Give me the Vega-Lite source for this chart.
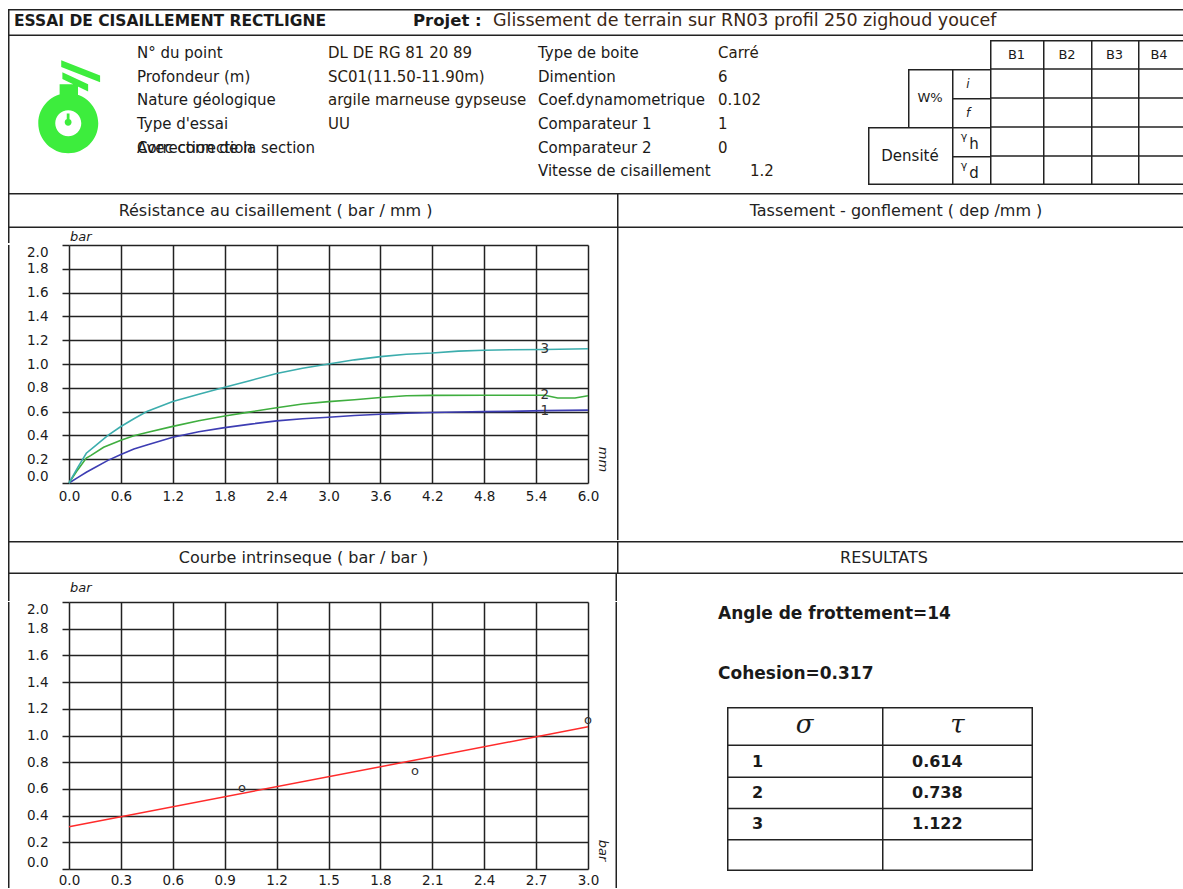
{
"$schema": "https://vega.github.io/schema/vega-lite/v6.json",
"padding": {"left": 8, "top": 9, "right": 0, "bottom": 0},
"background": "white",
"bounds": "full",
"spacing": 0,
"data": {"values": [{}]},
"datasets": {
"curves": [
{"sample":"1","d":0,"tau":0},{"sample":"1","d":0.1,"tau":0.045},{"sample":"1","d":0.2,"tau":0.09},{"sample":"1","d":0.3,"tau":0.13},{"sample":"1","d":0.45,"tau":0.19},{"sample":"1","d":0.6,"tau":0.24},{"sample":"1","d":0.75,"tau":0.285},{"sample":"1","d":0.9,"tau":0.32},{"sample":"1","d":1.2,"tau":0.385},{"sample":"1","d":1.5,"tau":0.43},{"sample":"1","d":1.8,"tau":0.465},{"sample":"1","d":2.1,"tau":0.495},{"sample":"1","d":2.4,"tau":0.522},{"sample":"1","d":2.7,"tau":0.54},{"sample":"1","d":3.0,"tau":0.552},{"sample":"1","d":3.3,"tau":0.567},{"sample":"1","d":3.6,"tau":0.578},{"sample":"1","d":3.9,"tau":0.586},{"sample":"1","d":4.2,"tau":0.592},{"sample":"1","d":4.5,"tau":0.597},{"sample":"1","d":4.8,"tau":0.6},{"sample":"1","d":5.1,"tau":0.602},{"sample":"1","d":5.5,"tau":0.608},{"sample":"1","d":6.0,"tau":0.612},
{"sample":"2","d":0,"tau":0},{"sample":"2","d":0.1,"tau":0.11},{"sample":"2","d":0.2,"tau":0.21},{"sample":"2","d":0.25,"tau":0.23},{"sample":"2","d":0.4,"tau":0.3},{"sample":"2","d":0.6,"tau":0.36},{"sample":"2","d":0.75,"tau":0.397},{"sample":"2","d":0.9,"tau":0.425},{"sample":"2","d":1.2,"tau":0.476},{"sample":"2","d":1.5,"tau":0.523},{"sample":"2","d":1.8,"tau":0.563},{"sample":"2","d":2.1,"tau":0.598},{"sample":"2","d":2.4,"tau":0.633},{"sample":"2","d":2.7,"tau":0.664},{"sample":"2","d":3.0,"tau":0.684},{"sample":"2","d":3.3,"tau":0.7},{"sample":"2","d":3.6,"tau":0.719},{"sample":"2","d":3.9,"tau":0.733},{"sample":"2","d":4.2,"tau":0.736},{"sample":"2","d":4.8,"tau":0.737},{"sample":"2","d":5.5,"tau":0.738},{"sample":"2","d":5.65,"tau":0.714},{"sample":"2","d":5.85,"tau":0.714},{"sample":"2","d":6.0,"tau":0.733},
{"sample":"3","d":0,"tau":0},{"sample":"3","d":0.1,"tau":0.13},{"sample":"3","d":0.2,"tau":0.25},{"sample":"3","d":0.3,"tau":0.31},{"sample":"3","d":0.45,"tau":0.4},{"sample":"3","d":0.6,"tau":0.475},{"sample":"3","d":0.75,"tau":0.54},{"sample":"3","d":0.9,"tau":0.6},{"sample":"3","d":1.2,"tau":0.685},{"sample":"3","d":1.5,"tau":0.745},{"sample":"3","d":1.8,"tau":0.805},{"sample":"3","d":2.1,"tau":0.862},{"sample":"3","d":2.4,"tau":0.92},{"sample":"3","d":2.7,"tau":0.965},{"sample":"3","d":3.0,"tau":1.0},{"sample":"3","d":3.3,"tau":1.035},{"sample":"3","d":3.6,"tau":1.062},{"sample":"3","d":3.9,"tau":1.082},{"sample":"3","d":4.2,"tau":1.092},{"sample":"3","d":4.5,"tau":1.108},{"sample":"3","d":4.8,"tau":1.116},{"sample":"3","d":5.1,"tau":1.12},{"sample":"3","d":5.5,"tau":1.122},{"sample":"3","d":6.0,"tau":1.128}
],
"fit": [{"sigma": 0, "tau": 0.317}, {"sigma": 3, "tau": 1.065}],
"tests": [{"sample": "1", "sigma": 1, "tau": 0.614}, {"sample": "2", "sigma": 2, "tau": 0.738}, {"sample": "3", "sigma": 3, "tau": 1.122}],
"info": [
{"group": "A", "line": 1, "label": "N° du point", "value": "DL DE RG 81 20 89"},
{"group": "A", "line": 2, "label": "Profondeur (m)", "value": "SC01(11.50-11.90m)"},
{"group": "A", "line": 3, "label": "Nature géologique", "value": "argile marneuse gypseuse"},
{"group": "A", "line": 4, "label": "Type d'essai", "value": "UU"},
{"group": "A", "line": 5, "label": "Correction de la section", "value": ""},
{"group": "A", "line": 5, "label": "Avec correction", "value": ""},
{"group": "B", "line": 1, "label": "Type de boite", "value": "Carré"},
{"group": "B", "line": 2, "label": "Dimention", "value": "6"},
{"group": "B", "line": 3, "label": "Coef.dynamometrique", "value": "0.102"},
{"group": "B", "line": 4, "label": "Comparateur 1", "value": "1"},
{"group": "B", "line": 5, "label": "Comparateur 2", "value": "0"},
{"group": "B", "line": 6, "label": "Vitesse de cisaillement", "value": "1.2"}
],
"results": [{"line": 1, "text": "Angle de frottement=14"}, {"line": 2, "text": "Cohesion=0.317"}],
"wcells": [
{"col": "B1", "row": "h", "text": "B1"}, {"col": "B1", "row": "i", "text": ""}, {"col": "B1", "row": "f", "text": ""}, {"col": "B1", "row": "gh", "text": ""}, {"col": "B1", "row": "gd", "text": ""},
{"col": "B2", "row": "h", "text": "B2"}, {"col": "B2", "row": "i", "text": ""}, {"col": "B2", "row": "f", "text": ""}, {"col": "B2", "row": "gh", "text": ""}, {"col": "B2", "row": "gd", "text": ""},
{"col": "B3", "row": "h", "text": "B3"}, {"col": "B3", "row": "i", "text": ""}, {"col": "B3", "row": "f", "text": ""}, {"col": "B3", "row": "gh", "text": ""}, {"col": "B3", "row": "gd", "text": ""},
{"col": "B4", "row": "h", "text": "B4"}, {"col": "B4", "row": "i", "text": ""}, {"col": "B4", "row": "f", "text": ""}, {"col": "B4", "row": "gh", "text": ""}, {"col": "B4", "row": "gd", "text": ""}
]
},
"config": {
"view": {"stroke": null},
"text": {"font": "DejaVu Sans", "fontSize": 15, "color": "#1a1a1a"},
"rule": {"color": "#222", "strokeWidth": 3},
"axis": {"labelFont": "DejaVu Sans", "labelFontSize": 13.5, "labelColor": "#1a1a1a", "titleFont": "DejaVu Sans", "titleColor": "#1a1a1a", "gridColor": "#222", "gridOpacity": 1, "gridWidth": 1.5, "domain": false}
},
"vconcat": [
{"hconcat": [
 {"width": 397, "height": 27, "layer": [
  {"mark": {"type": "rule", "clip": true}, "encoding": {"y": {"datum": 1, "type": "quantitative", "scale": {"domain": [0, 1]}, "axis": null}}},
  {"mark": {"type": "rule", "clip": true}, "encoding": {"y": {"datum": 0, "type": "quantitative", "axis": null}}},
  {"mark": {"type": "rule", "clip": true}, "encoding": {"x": {"datum": 0, "type": "quantitative", "scale": {"domain": [0, 1]}, "axis": null}}},
  {"mark": {"type": "text", "text": "ESSAI DE CISAILLEMENT RECTLIGNE", "align": "left", "fontWeight": "bold", "fontSize": 15.5, "dx": 6, "dy": -2}, "encoding": {"x": {"datum": 0, "type": "quantitative", "axis": null}}}
 ]},
 {"width": 80, "height": 27, "layer": [
  {"mark": {"type": "rule", "clip": true}, "encoding": {"y": {"datum": 1, "type": "quantitative", "scale": {"domain": [0, 1]}, "axis": null}}},
  {"mark": {"type": "rule", "clip": true}, "encoding": {"y": {"datum": 0, "type": "quantitative", "axis": null}}},
  {"mark": {"type": "text", "text": "Projet :", "align": "left", "fontWeight": "bold", "fontSize": 16.5, "dx": 8, "dy": -2}, "encoding": {"x": {"datum": 0, "type": "quantitative", "scale": {"domain": [0, 1]}, "axis": null}}}
 ]},
 {"width": 712, "height": 27, "layer": [
  {"mark": {"type": "rule", "clip": true}, "encoding": {"y": {"datum": 1, "type": "quantitative", "scale": {"domain": [0, 1]}, "axis": null}}},
  {"mark": {"type": "rule", "clip": true}, "encoding": {"y": {"datum": 0, "type": "quantitative", "axis": null}}},
  {"mark": {"type": "text", "text": "Glissement de terrain sur RN03 profil 250 zighoud youcef", "align": "left", "fontSize": 17.5, "color": "#3a2614", "dx": 8, "dy": -2}, "encoding": {"x": {"datum": 0, "type": "quantitative", "scale": {"domain": [0, 1]}, "axis": null}}}
 ]}
], "spacing": 0, "bounds": "flush"},
{"hconcat": [
 {"width": 129, "height": 157, "layer": [
  {"mark": {"type": "rule", "clip": true}, "encoding": {"x": {"datum": 0, "type": "quantitative", "scale": {"domain": [0, 1]}, "axis": null}}},
  {"mark": {"type": "point", "filled": true, "fill": "#3ded3d", "opacity": 1, "strokeWidth": 0, "size": 8464, "shape": "M -0.744 0.19 A 0.652 0.652 0 1 1 0.56 0.19 A 0.652 0.652 0 1 1 -0.744 0.19 Z M -0.375 0.19 A 0.283 0.283 0 1 0 0.191 0.19 A 0.283 0.283 0 1 0 -0.375 0.19 Z M -0.17 0.17 A 0.075 0.075 0 1 1 -0.02 0.17 A 0.075 0.075 0 1 1 -0.17 0.17 Z M -0.125 -0.02 L -0.065 -0.02 L -0.065 0.17 L -0.125 0.17 Z M -0.28 -0.66 L 0.12 -0.66 L 0.12 -0.4 L -0.28 -0.4 Z M -0.245 -1.18 L 0.6 -0.85 L 0.6 -0.7 L -0.245 -1.03 Z M -0.22 -0.92 L 0.34 -0.66 L 0.34 -0.5 L -0.22 -0.77 Z"}, "encoding": {}}
 ]},
 {"width": 191, "height": 157, "data": {"name": "info"}, "transform": [{"filter": "datum.group == 'A'"}],
  "mark": {"type": "text", "align": "left", "fontSize": 15},
  "encoding": {"x": {"datum": 0, "type": "quantitative", "scale": {"domain": [0, 1]}, "axis": null},
   "y": {"field": "line", "type": "ordinal", "scale": {"type": "point", "domain": [1, 2, 3, 4, 5, 6], "padding": 0.826, "align": 0.442}, "axis": null},
   "text": {"field": "label", "type": "nominal"}}},
 {"width": 210, "height": 157, "data": {"name": "info"}, "transform": [{"filter": "datum.group == 'A'"}],
  "mark": {"type": "text", "align": "left", "fontSize": 15, "color": "#2a1c10"},
  "encoding": {"x": {"datum": 0, "type": "quantitative", "scale": {"domain": [0, 1]}, "axis": null},
   "y": {"field": "line", "type": "ordinal", "scale": {"type": "point", "domain": [1, 2, 3, 4, 5, 6], "padding": 0.826, "align": 0.442}, "axis": null},
   "text": {"field": "value", "type": "nominal"}}},
 {"width": 180, "height": 157, "data": {"name": "info"}, "transform": [{"filter": "datum.group == 'B'"}],
  "mark": {"type": "text", "align": "left", "fontSize": 15},
  "encoding": {"x": {"datum": 0, "type": "quantitative", "scale": {"domain": [0, 1]}, "axis": null},
   "y": {"field": "line", "type": "ordinal", "scale": {"type": "point", "domain": [1, 2, 3, 4, 5, 6], "padding": 0.826, "align": 0.442}, "axis": null},
   "text": {"field": "label", "type": "nominal"}}},
 {"width": 150, "height": 157, "data": {"name": "info"}, "transform": [{"filter": "datum.group == 'B'"}],
  "encoding": {"x": {"datum": 0, "type": "quantitative", "scale": {"domain": [0, 1]}, "axis": null},
   "y": {"field": "line", "type": "ordinal", "scale": {"type": "point", "domain": [1, 2, 3, 4, 5, 6], "padding": 0.826, "align": 0.442}, "axis": null},
   "text": {"field": "value", "type": "nominal"}},
  "layer": [
   {"transform": [{"filter": "datum.line < 6"}], "mark": {"type": "text", "align": "left", "fontSize": 15, "color": "#2a1c10"}},
   {"transform": [{"filter": "datum.line == 6"}], "mark": {"type": "text", "align": "left", "fontSize": 15, "color": "#2a1c10", "dx": 32}}
  ]},
 {"vconcat": [
  {"width": 318, "height": 4, "mark": {"type": "point", "opacity": 0, "size": 0}, "encoding": {}},
  {"hconcat": [
   {"vconcat": [
    {"width": 122, "height": 29, "mark": {"type": "point", "opacity": 0, "size": 0}, "encoding": {}},
    {"hconcat": [
     {"width": 40, "height": 58, "mark": {"type": "point", "opacity": 0, "size": 0}, "encoding": {}},
     {"width": 44, "height": 58, "layer": [
      {"mark": {"type": "rule", "clip": true}, "encoding": {"y": {"datum": 1, "type": "quantitative", "scale": {"domain": [0, 1]}, "axis": null}}},
      {"mark": {"type": "rule", "clip": true}, "encoding": {"x": {"datum": 0, "type": "quantitative", "scale": {"domain": [0, 1]}, "axis": null}}},
      {"mark": {"type": "text", "text": "W%", "fontSize": 13}, "encoding": {}}
     ]},
     {"vconcat": [
      {"width": 38, "height": 29, "layer": [
       {"mark": {"type": "rule", "clip": true}, "encoding": {"y": {"datum": 1, "type": "quantitative", "scale": {"domain": [0, 1]}, "axis": null}}},
       {"mark": {"type": "rule", "clip": true}, "encoding": {"x": {"datum": 0, "type": "quantitative", "scale": {"domain": [0, 1]}, "axis": null}}},
       {"mark": {"type": "text", "text": "i", "fontSize": 12, "fontStyle": "italic", "dx": -3}, "encoding": {}}
      ]},
      {"width": 38, "height": 29, "layer": [
       {"mark": {"type": "rule", "clip": true}, "encoding": {"y": {"datum": 1, "type": "quantitative", "scale": {"domain": [0, 1]}, "axis": null}}},
       {"mark": {"type": "rule", "clip": true}, "encoding": {"x": {"datum": 0, "type": "quantitative", "scale": {"domain": [0, 1]}, "axis": null}}},
       {"mark": {"type": "text", "text": "f", "fontSize": 12, "fontStyle": "italic", "dx": -3}, "encoding": {}}
      ]}
     ], "spacing": 0, "bounds": "flush"}
    ], "spacing": 0, "bounds": "full"},
    {"hconcat": [
     {"width": 84, "height": 58, "layer": [
      {"mark": {"type": "rule", "clip": true}, "encoding": {"y": {"datum": 1, "type": "quantitative", "scale": {"domain": [0, 1]}, "axis": null}}},
      {"mark": {"type": "rule", "clip": true}, "encoding": {"y": {"datum": 0, "type": "quantitative", "axis": null}}},
      {"mark": {"type": "rule", "clip": true}, "encoding": {"x": {"datum": 0, "type": "quantitative", "scale": {"domain": [0, 1]}, "axis": null}}},
      {"mark": {"type": "text", "text": "Densité", "fontSize": 15}, "encoding": {}}
     ]},
     {"vconcat": [
      {"width": 38, "height": 29, "layer": [
       {"mark": {"type": "rule", "clip": true}, "encoding": {"y": {"datum": 1, "type": "quantitative", "scale": {"domain": [0, 1]}, "axis": null}}},
       {"mark": {"type": "rule", "clip": true}, "encoding": {"x": {"datum": 0, "type": "quantitative", "scale": {"domain": [0, 1]}, "axis": null}}},
       {"mark": {"type": "text", "text": "γ", "fontSize": 11, "dx": -7, "dy": -5}, "encoding": {}},
       {"mark": {"type": "text", "text": "h", "fontSize": 15, "dx": 3, "dy": 2}, "encoding": {}}
      ]},
      {"width": 38, "height": 29, "layer": [
       {"mark": {"type": "rule", "clip": true}, "encoding": {"y": {"datum": 1, "type": "quantitative", "scale": {"domain": [0, 1]}, "axis": null}}},
       {"mark": {"type": "rule", "clip": true}, "encoding": {"y": {"datum": 0, "type": "quantitative", "axis": null}}},
       {"mark": {"type": "rule", "clip": true}, "encoding": {"x": {"datum": 0, "type": "quantitative", "scale": {"domain": [0, 1]}, "axis": null}}},
       {"mark": {"type": "text", "text": "γ", "fontSize": 11, "dx": -7, "dy": -5}, "encoding": {}},
       {"mark": {"type": "text", "text": "d", "fontSize": 15, "dx": 3, "dy": 2}, "encoding": {}}
      ]}
     ], "spacing": 0, "bounds": "flush"}
    ], "spacing": 0, "bounds": "full"}
   ], "spacing": 0, "bounds": "full"},
   {"width": 53, "height": 145, "data": {"name": "wcells"}, "transform": [{"filter": "datum.col == 'B1'"}], "resolve": {"scale": {"y": "independent"}},
    "layer": [
     {"data": {"values": [{}]}, "mark": {"type": "rule", "clip": true}, "encoding": {"x": {"datum": 0, "type": "quantitative", "scale": {"domain": [0, 1]}, "axis": null}}},
     {"data": {"values": [{}]}, "mark": {"type": "rule", "clip": true}, "encoding": {"y": {"datum": 0, "type": "quantitative", "scale": {"domain": [0, 1]}, "axis": null}}},
     {"data": {"values": [{}]}, "mark": {"type": "rule", "clip": true}, "encoding": {"y": {"datum": 1, "type": "quantitative", "scale": {"domain": [0, 1]}, "axis": null}}},
     {"transform": [{"filter": "datum.row != 'h'"}], "mark": {"type": "rule", "clip": true, "strokeWidth": 1.5}, "encoding": {"y": {"field": "row", "type": "nominal", "bandPosition": 0, "scale": {"type": "band", "domain": ["h", "i", "f", "gh", "gd"], "paddingInner": 0, "paddingOuter": 0}, "axis": null}}},
     {"mark": {"type": "text", "fontSize": 13}, "encoding": {"y": {"field": "row", "type": "nominal", "scale": {"type": "band", "domain": ["h", "i", "f", "gh", "gd"], "paddingInner": 0, "paddingOuter": 0}, "axis": null}, "text": {"field": "text", "type": "nominal"}}}
    ]},
   {"width": 48, "height": 145, "data": {"name": "wcells"}, "transform": [{"filter": "datum.col == 'B2'"}], "resolve": {"scale": {"y": "independent"}},
    "layer": [
     {"data": {"values": [{}]}, "mark": {"type": "rule", "clip": true}, "encoding": {"x": {"datum": 0, "type": "quantitative", "scale": {"domain": [0, 1]}, "axis": null}}},
     {"data": {"values": [{}]}, "mark": {"type": "rule", "clip": true}, "encoding": {"y": {"datum": 0, "type": "quantitative", "scale": {"domain": [0, 1]}, "axis": null}}},
     {"data": {"values": [{}]}, "mark": {"type": "rule", "clip": true}, "encoding": {"y": {"datum": 1, "type": "quantitative", "scale": {"domain": [0, 1]}, "axis": null}}},
     {"transform": [{"filter": "datum.row != 'h'"}], "mark": {"type": "rule", "clip": true, "strokeWidth": 1.5}, "encoding": {"y": {"field": "row", "type": "nominal", "bandPosition": 0, "scale": {"type": "band", "domain": ["h", "i", "f", "gh", "gd"], "paddingInner": 0, "paddingOuter": 0}, "axis": null}}},
     {"mark": {"type": "text", "fontSize": 13}, "encoding": {"y": {"field": "row", "type": "nominal", "scale": {"type": "band", "domain": ["h", "i", "f", "gh", "gd"], "paddingInner": 0, "paddingOuter": 0}, "axis": null}, "text": {"field": "text", "type": "nominal"}}}
    ]},
   {"width": 47, "height": 145, "data": {"name": "wcells"}, "transform": [{"filter": "datum.col == 'B3'"}], "resolve": {"scale": {"y": "independent"}},
    "layer": [
     {"data": {"values": [{}]}, "mark": {"type": "rule", "clip": true}, "encoding": {"x": {"datum": 0, "type": "quantitative", "scale": {"domain": [0, 1]}, "axis": null}}},
     {"data": {"values": [{}]}, "mark": {"type": "rule", "clip": true}, "encoding": {"y": {"datum": 0, "type": "quantitative", "scale": {"domain": [0, 1]}, "axis": null}}},
     {"data": {"values": [{}]}, "mark": {"type": "rule", "clip": true}, "encoding": {"y": {"datum": 1, "type": "quantitative", "scale": {"domain": [0, 1]}, "axis": null}}},
     {"transform": [{"filter": "datum.row != 'h'"}], "mark": {"type": "rule", "clip": true, "strokeWidth": 1.5}, "encoding": {"y": {"field": "row", "type": "nominal", "bandPosition": 0, "scale": {"type": "band", "domain": ["h", "i", "f", "gh", "gd"], "paddingInner": 0, "paddingOuter": 0}, "axis": null}}},
     {"mark": {"type": "text", "fontSize": 13}, "encoding": {"y": {"field": "row", "type": "nominal", "scale": {"type": "band", "domain": ["h", "i", "f", "gh", "gd"], "paddingInner": 0, "paddingOuter": 0}, "axis": null}, "text": {"field": "text", "type": "nominal"}}}
    ]},
   {"width": 48, "height": 145, "data": {"name": "wcells"}, "transform": [{"filter": "datum.col == 'B4'"}], "resolve": {"scale": {"y": "independent"}},
    "layer": [
     {"data": {"values": [{}]}, "mark": {"type": "rule", "clip": true}, "encoding": {"x": {"datum": 0, "type": "quantitative", "scale": {"domain": [0, 1]}, "axis": null}}},
     {"data": {"values": [{}]}, "mark": {"type": "rule", "clip": true}, "encoding": {"y": {"datum": 0, "type": "quantitative", "scale": {"domain": [0, 1]}, "axis": null}}},
     {"data": {"values": [{}]}, "mark": {"type": "rule", "clip": true}, "encoding": {"y": {"datum": 1, "type": "quantitative", "scale": {"domain": [0, 1]}, "axis": null}}},
     {"transform": [{"filter": "datum.row != 'h'"}], "mark": {"type": "rule", "clip": true, "strokeWidth": 1.5}, "encoding": {"y": {"field": "row", "type": "nominal", "bandPosition": 0, "scale": {"type": "band", "domain": ["h", "i", "f", "gh", "gd"], "paddingInner": 0, "paddingOuter": 0}, "axis": null}}},
     {"mark": {"type": "text", "fontSize": 13, "dx": -3}, "encoding": {"y": {"field": "row", "type": "nominal", "scale": {"type": "band", "domain": ["h", "i", "f", "gh", "gd"], "paddingInner": 0, "paddingOuter": 0}, "axis": null}, "text": {"field": "text", "type": "nominal"}}}
    ]}
  ], "spacing": 0, "bounds": "full"},
  {"width": 318, "height": 8, "mark": {"type": "point", "opacity": 0, "size": 0}, "encoding": {}}
 ], "spacing": 0, "bounds": "full"}
], "spacing": 0, "bounds": "full"},
{"hconcat": [
 {"width": 609, "height": 35, "layer": [
  {"mark": {"type": "rule", "clip": true}, "encoding": {"y": {"datum": 1, "type": "quantitative", "scale": {"domain": [0, 1]}, "axis": null}}},
  {"mark": {"type": "rule", "clip": true}, "encoding": {"y": {"datum": 0, "type": "quantitative", "axis": null}}},
  {"mark": {"type": "rule", "clip": true}, "encoding": {"x": {"datum": 0, "type": "quantitative", "scale": {"domain": [0, 1]}, "axis": null}}},
  {"mark": {"type": "text", "text": "Résistance au cisaillement ( bar / mm )", "fontSize": 16, "color": "#222", "dx": -37}, "encoding": {}}
 ]},
 {"width": 580, "height": 35, "layer": [
  {"mark": {"type": "rule", "clip": true}, "encoding": {"y": {"datum": 1, "type": "quantitative", "scale": {"domain": [0, 1]}, "axis": null}}},
  {"mark": {"type": "rule", "clip": true}, "encoding": {"y": {"datum": 0, "type": "quantitative", "axis": null}}},
  {"mark": {"type": "rule", "clip": true}, "encoding": {"x": {"datum": 0, "type": "quantitative", "scale": {"domain": [0, 1]}, "axis": null}}},
  {"mark": {"type": "text", "text": "Tassement - gonflement ( dep /mm )", "fontSize": 16, "color": "#222", "dx": -11}, "encoding": {}}
 ]}
], "spacing": 0, "bounds": "flush"},
{"hconcat": [
 {"vconcat": [
  {"hconcat": [
   {"width": 61, "height": 15, "mark": {"type": "rule", "clip": true}, "encoding": {"x": {"datum": 0, "type": "quantitative", "scale": {"domain": [0, 1]}, "axis": null}}},
   {"width": 548, "height": 15, "mark": {"type": "text", "text": "bar", "align": "left", "baseline": "alphabetic", "fontStyle": "italic", "fontSize": 13, "dx": 1, "dy": -2},
    "encoding": {"x": {"datum": 0, "type": "quantitative", "scale": {"domain": [0, 1]}, "axis": null}, "y": {"datum": 0, "type": "quantitative", "scale": {"domain": [0, 1]}, "axis": null}}}
  ], "spacing": 0, "bounds": "flush"},
  {"hconcat": [
   {"width": 61, "height": 296, "mark": {"type": "rule", "clip": true}, "encoding": {"x": {"datum": 0, "type": "quantitative", "scale": {"domain": [0, 1]}, "axis": null}}},
   {"width": 519, "height": 238, "data": {"name": "curves"},
    "layer": [
     {"mark": {"type": "line", "strokeWidth": 1.6},
      "encoding": {
       "x": {"field": "d", "type": "quantitative", "scale": {"domain": [0, 6], "nice": false, "zero": false},
        "axis": {"values": [0, 0.6, 1.2, 1.8, 2.4, 3, 3.6, 4.2, 4.8, 5.4, 6], "tickCount": 30, "format": ".1f", "grid": true, "ticks": false, "labelPadding": 6, "labelFlush": false, "labelOverlap": false, "title": "mm", "titleAngle": 90, "titleX": 533, "titleY": -24, "titleAlign": "center", "titleBaseline": "middle", "titleFontStyle": "italic", "titleFontWeight": "normal", "titleFontSize": 13}},
       "y": {"field": "tau", "type": "quantitative", "scale": {"domain": [0, 2], "nice": false},
        "axis": {"values": [0, 0.2, 0.4, 0.6, 0.8, 1, 1.2, 1.4, 1.6, 1.8, 2], "tickCount": 30, "format": ".1f", "grid": true, "ticks": true, "tickSize": 7, "tickWidth": 1.5, "tickColor": "#222", "labelPadding": 14, "labelFlush": true, "labelOverlap": false, "title": null}},
       "color": {"field": "sample", "type": "nominal", "scale": {"domain": ["1", "2", "3"], "range": ["#3d3db3", "#3fae3f", "#3cadad"]}, "legend": null}
      }},
     {"transform": [{"filter": "datum.d == 5.5"}],
      "mark": {"type": "text", "fontSize": 13.5, "color": "#333"},
      "encoding": {"x": {"field": "d", "type": "quantitative"}, "y": {"field": "tau", "type": "quantitative"}, "text": {"field": "sample", "type": "nominal"}}}
    ]},
   {"width": 29, "height": 296, "mark": {"type": "point", "opacity": 0, "size": 0}, "encoding": {}}
  ], "spacing": 0, "bounds": "flush"}
 ], "spacing": 0, "bounds": "full"},
 {"width": 580, "height": 312, "mark": {"type": "rule", "clip": true}, "encoding": {"x": {"datum": 0, "type": "quantitative", "scale": {"domain": [0, 1]}, "axis": null}}}
], "spacing": 0, "bounds": "full"},
{"hconcat": [
 {"width": 609, "height": 33, "layer": [
  {"mark": {"type": "rule", "clip": true}, "encoding": {"y": {"datum": 1, "type": "quantitative", "scale": {"domain": [0, 1]}, "axis": null}}},
  {"mark": {"type": "rule", "clip": true}, "encoding": {"y": {"datum": 0, "type": "quantitative", "axis": null}}},
  {"mark": {"type": "rule", "clip": true}, "encoding": {"x": {"datum": 0, "type": "quantitative", "scale": {"domain": [0, 1]}, "axis": null}}},
  {"mark": {"type": "text", "text": "Courbe intrinseque ( bar / bar )", "fontSize": 16, "color": "#222", "dx": -9}, "encoding": {}}
 ]},
 {"width": 580, "height": 33, "layer": [
  {"mark": {"type": "rule", "clip": true}, "encoding": {"y": {"datum": 1, "type": "quantitative", "scale": {"domain": [0, 1]}, "axis": null}}},
  {"mark": {"type": "rule", "clip": true}, "encoding": {"y": {"datum": 0, "type": "quantitative", "axis": null}}},
  {"mark": {"type": "rule", "clip": true}, "encoding": {"x": {"datum": 0, "type": "quantitative", "scale": {"domain": [0, 1]}, "axis": null}}},
  {"mark": {"type": "text", "text": "RESULTATS", "fontSize": 16, "color": "#222", "dx": -23}, "encoding": {}}
 ]}
], "spacing": 0, "bounds": "flush"},
{"hconcat": [
 {"vconcat": [
  {"hconcat": [
   {"width": 61, "height": 27, "mark": {"type": "rule", "clip": true}, "encoding": {"x": {"datum": 0, "type": "quantitative", "scale": {"domain": [0, 1]}, "axis": null}}},
   {"width": 519, "height": 27, "mark": {"type": "text", "text": "bar", "align": "left", "baseline": "alphabetic", "fontStyle": "italic", "fontSize": 13, "dx": 1, "dy": -9},
    "encoding": {"x": {"datum": 0, "type": "quantitative", "scale": {"domain": [0, 1]}, "axis": null}, "y": {"datum": 0, "type": "quantitative", "scale": {"domain": [0, 1]}, "axis": null}}},
   {"width": 29, "height": 27, "mark": {"type": "rule", "clip": true}, "encoding": {"x": {"datum": 1, "type": "quantitative", "scale": {"domain": [0, 1]}, "axis": null}}}
  ], "spacing": 0, "bounds": "flush"},
  {"hconcat": [
   {"width": 61, "height": 286, "mark": {"type": "rule", "clip": true}, "encoding": {"x": {"datum": 0, "type": "quantitative", "scale": {"domain": [0, 1]}, "axis": null}}},
   {"width": 519, "height": 267,
    "layer": [
     {"data": {"name": "fit"}, "mark": {"type": "line", "color": "#ff2b2b", "strokeWidth": 1.5},
      "encoding": {
       "x": {"field": "sigma", "type": "quantitative", "scale": {"domain": [0, 3], "nice": false, "zero": false},
        "axis": {"values": [0, 0.3, 0.6, 0.9, 1.2, 1.5, 1.8, 2.1, 2.4, 2.7, 3], "tickCount": 30, "format": ".1f", "grid": true, "ticks": false, "labelPadding": 4, "labelFlush": false, "labelOverlap": false, "title": "bar", "titleAngle": 90, "titleX": 533, "titleY": -19, "titleAlign": "center", "titleBaseline": "middle", "titleFontStyle": "italic", "titleFontWeight": "normal", "titleFontSize": 13}},
       "y": {"field": "tau", "type": "quantitative", "scale": {"domain": [0, 2], "nice": false},
        "axis": {"values": [0, 0.2, 0.4, 0.6, 0.8, 1, 1.2, 1.4, 1.6, 1.8, 2], "tickCount": 30, "format": ".1f", "grid": true, "ticks": true, "tickSize": 7, "tickWidth": 1.5, "tickColor": "#222", "labelPadding": 14, "labelFlush": true, "labelOverlap": false, "title": null}}
      }},
     {"data": {"name": "tests"}, "mark": {"type": "text", "text": "o", "fontSize": 13, "color": "#333", "dy": 1},
      "encoding": {"x": {"field": "sigma", "type": "quantitative"}, "y": {"field": "tau", "type": "quantitative"}}}
    ]},
   {"width": 29, "height": 286, "mark": {"type": "rule", "clip": true}, "encoding": {"x": {"datum": 1, "type": "quantitative", "scale": {"domain": [0, 1]}, "axis": null}}}
  ], "spacing": 0, "bounds": "flush"}
 ], "spacing": 0, "bounds": "full"},
 {"vconcat": [
  {"hconcat": [
   {"width": 101, "height": 133, "mark": {"type": "point", "opacity": 0, "size": 0}, "encoding": {}},
   {"width": 479, "height": 133, "data": {"name": "results"},
    "mark": {"type": "text", "align": "left", "fontWeight": "bold", "fontSize": 17},
    "encoding": {"x": {"datum": 0, "type": "quantitative", "scale": {"domain": [0, 1]}, "axis": null},
     "y": {"field": "line", "type": "ordinal", "scale": {"type": "point", "domain": [1, 2], "padding": 0.608, "align": 0.551}, "axis": null},
     "text": {"field": "text", "type": "nominal"}}}
  ], "spacing": 0, "bounds": "flush"},
  {"hconcat": [
   {"width": 110, "height": 164, "mark": {"type": "point", "opacity": 0, "size": 0}, "encoding": {}},
   {"vconcat": [
    {"hconcat": [
     {"width": 155, "height": 39, "layer": [
      {"mark": {"type": "rule", "clip": true}, "encoding": {"y": {"datum": 1, "type": "quantitative", "scale": {"domain": [0, 1]}, "axis": null}}},
      {"mark": {"type": "rule", "clip": true}, "encoding": {"y": {"datum": 0, "type": "quantitative", "axis": null}}},
      {"mark": {"type": "rule", "clip": true}, "encoding": {"x": {"datum": 0, "type": "quantitative", "scale": {"domain": [0, 1]}, "axis": null}}},
      {"mark": {"type": "text", "text": "σ", "font": "DejaVu Serif", "fontStyle": "italic", "fontSize": 26, "dy": -2}, "encoding": {}}
     ]},
     {"width": 151, "height": 39, "layer": [
      {"mark": {"type": "rule", "clip": true}, "encoding": {"y": {"datum": 1, "type": "quantitative", "scale": {"domain": [0, 1]}, "axis": null}}},
      {"mark": {"type": "rule", "clip": true}, "encoding": {"y": {"datum": 0, "type": "quantitative", "axis": null}}},
      {"mark": {"type": "rule", "clip": true}, "encoding": {"x": {"datum": 0, "type": "quantitative", "scale": {"domain": [0, 1]}, "axis": null}}},
      {"mark": {"type": "rule", "clip": true}, "encoding": {"x": {"datum": 1, "type": "quantitative", "axis": null}}},
      {"mark": {"type": "text", "text": "τ", "font": "DejaVu Serif", "fontStyle": "italic", "fontSize": 26, "dy": -2}, "encoding": {}}
     ]}
    ], "spacing": 0, "bounds": "flush"},
    {"hconcat": [
     {"width": 155, "height": 125, "data": {"name": "tests"}, "resolve": {"scale": {"y": "independent"}},
      "layer": [
       {"data": {"values": [{}]}, "mark": {"type": "rule", "clip": true}, "encoding": {"x": {"datum": 0, "type": "quantitative", "scale": {"domain": [0, 1]}, "axis": null}}},
       {"data": {"values": [{}]}, "mark": {"type": "rule", "clip": true}, "encoding": {"y": {"datum": 0, "type": "quantitative", "scale": {"domain": [0, 1]}, "axis": null}}},
       {"transform": [{"filter": "datum.sample != '1'"}], "mark": {"type": "rule", "clip": true, "strokeWidth": 1.5}, "encoding": {"y": {"field": "sample", "type": "nominal", "bandPosition": 0, "scale": {"type": "band", "domain": ["1", "2", "3", "e"], "paddingInner": 0, "paddingOuter": 0}, "axis": null}}},
       {"transform": [{"filter": "datum.sample == '3'"}], "mark": {"type": "rule", "clip": true, "strokeWidth": 1.5}, "encoding": {"y": {"field": "sample", "type": "nominal", "bandPosition": 1, "scale": {"type": "band", "domain": ["1", "2", "3", "e"], "paddingInner": 0, "paddingOuter": 0}, "axis": null}}},
       {"mark": {"type": "text", "align": "left", "fontWeight": "bold", "fontSize": 16, "dx": 25}, "encoding": {"x": {"datum": 0, "type": "quantitative", "axis": null}, "y": {"field": "sample", "type": "nominal", "scale": {"type": "band", "domain": ["1", "2", "3", "e"], "paddingInner": 0, "paddingOuter": 0}, "axis": null}, "text": {"field": "sigma", "type": "quantitative"}}}
      ]},
     {"width": 151, "height": 125, "data": {"name": "tests"}, "resolve": {"scale": {"y": "independent"}},
      "layer": [
       {"data": {"values": [{}]}, "mark": {"type": "rule", "clip": true}, "encoding": {"x": {"datum": 0, "type": "quantitative", "scale": {"domain": [0, 1]}, "axis": null}}},
       {"data": {"values": [{}]}, "mark": {"type": "rule", "clip": true}, "encoding": {"x": {"datum": 1, "type": "quantitative", "axis": null}}},
       {"data": {"values": [{}]}, "mark": {"type": "rule", "clip": true}, "encoding": {"y": {"datum": 0, "type": "quantitative", "scale": {"domain": [0, 1]}, "axis": null}}},
       {"transform": [{"filter": "datum.sample != '1'"}], "mark": {"type": "rule", "clip": true, "strokeWidth": 1.5}, "encoding": {"y": {"field": "sample", "type": "nominal", "bandPosition": 0, "scale": {"type": "band", "domain": ["1", "2", "3", "e"], "paddingInner": 0, "paddingOuter": 0}, "axis": null}}},
       {"transform": [{"filter": "datum.sample == '3'"}], "mark": {"type": "rule", "clip": true, "strokeWidth": 1.5}, "encoding": {"y": {"field": "sample", "type": "nominal", "bandPosition": 1, "scale": {"type": "band", "domain": ["1", "2", "3", "e"], "paddingInner": 0, "paddingOuter": 0}, "axis": null}}},
       {"mark": {"type": "text", "align": "left", "fontWeight": "bold", "fontSize": 16, "dx": 30}, "encoding": {"x": {"datum": 0, "type": "quantitative", "axis": null}, "y": {"field": "sample", "type": "nominal", "scale": {"type": "band", "domain": ["1", "2", "3", "e"], "paddingInner": 0, "paddingOuter": 0}, "axis": null}, "text": {"field": "tau", "type": "quantitative", "format": ".3f"}}}
      ]}
    ], "spacing": 0, "bounds": "flush"}
   ], "spacing": 0, "bounds": "full"},
   {"width": 164, "height": 164, "mark": {"type": "point", "opacity": 0, "size": 0}, "encoding": {}}
  ], "spacing": 0, "bounds": "full"},
  {"width": 580, "height": 17, "mark": {"type": "point", "opacity": 0, "size": 0}, "encoding": {}}
 ], "spacing": 0, "bounds": "full"}
], "spacing": 0, "bounds": "full"}
]
}
